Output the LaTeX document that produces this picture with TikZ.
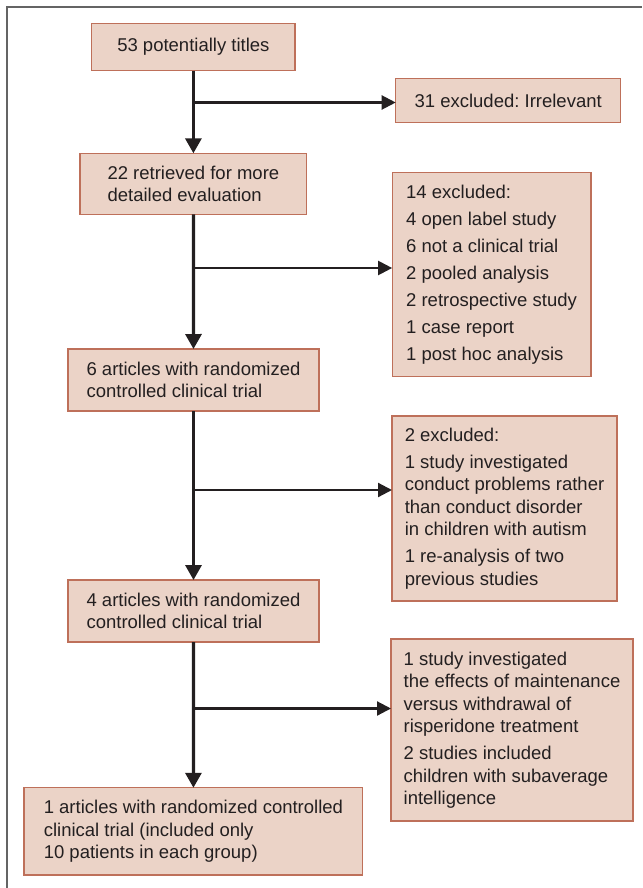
\documentclass[tikz,border=0pt]{standalone}
\usepackage{fontspec}
\setmainfont{Liberation Sans}
\usetikzlibrary{arrows.meta}
\definecolor{boxfill}{RGB}{235,211,199}
\definecolor{boxline}{RGB}{190,112,90}
\definecolor{arrowcol}{RGB}{35,31,32}
\definecolor{framecol}{RGB}{100,100,100}
\tikzset{
  box/.style={draw=boxline, fill=boxfill, line width=1.3pt, outer sep=0pt,
    inner xsep=0pt, inner ysep=0pt, align=left, text=arrowcol,
    font=\fontsize{18.5}{22.5}\selectfont\frenchspacing},
  varr/.style={draw=arrowcol, line width=3.2pt, -{Triangle[width=16pt,length=15pt]}},
  harr/.style={draw=arrowcol, line width=2.2pt, -{Triangle[width=14pt,length=14pt]}},
  framestyle/.style={draw=framecol, line width=2pt},
}
\begin{document}
\begin{tikzpicture}[x=1pt,y=-1pt]
\useasboundingbox (0,0) rectangle (642,888);
\draw[framestyle] (7,888) -- (7,7) -- (642,7);

\node[box, align=center, minimum width=203.3pt, minimum height=47.4pt] (b1) at (193.4,47) {53 potentially titles};
\node[box, align=center, minimum width=225pt, minimum height=44.4pt] (b2) at (508.2,100.5) {31 excluded: Irrelevant};
\node[box, minimum width=226.7pt, minimum height=61pt] (b3) at (193.4,183.8) {22 retrieved for more\\detailed evaluation};
\node[box, minimum width=198.7pt, minimum height=204.4pt] (b4) at (491.5,274.5) {14 excluded:\\[4.5pt]4 open label study\\[4.5pt]6 not a clinical trial\\[4.5pt]2 pooled analysis\\[4.5pt]2 retrospective study\\[4.5pt]1 case report\\[4.5pt]1 post hoc analysis};
\node[box, minimum width=251pt, minimum height=62pt] (b5) at (193.5,380) {6 articles with randomized\\controlled clinical trial};
\node[box, minimum width=225pt, minimum height=185pt] (b6) at (504.5,508.5) {2 excluded:\\[4.5pt]1 study investigated\\conduct problems rather\\than conduct disorder\\in children with autism\\[4.5pt]1 re-analysis of two\\previous studies};
\node[box, minimum width=251pt, minimum height=62pt] (b7) at (193.5,611) {4 articles with randomized\\controlled clinical trial};
\node[box, minimum width=242pt, minimum height=182pt] (b8) at (512,730) {1 study investigated\\the effects of maintenance\\versus withdrawal of\\risperidone treatment\\[4.5pt]2 studies included\\children with subaverage\\intelligence};
\node[box, minimum width=338.7pt, minimum height=87.3pt] (b9) at (193.4,831.4) {1 articles with randomized controlled\\clinical trial (included only\\10 patients in each group)};

\coordinate (j1) at (193.4,102.5);
\coordinate (j2) at (193.4,268);
\coordinate (j3) at (193.4,490);
\coordinate (j4) at (193.4,708.5);

\draw[varr] (b1) -- (b3);
\draw[varr] (b3) -- (b5);
\draw[varr] (b5) -- (b7);
\draw[varr] (b7) -- (b9);

\draw[harr] (j1) -- (j1 -| b2.west);
\draw[harr] (j2) -- (j2 -| b4.west);
\draw[harr] (j3) -- (j3 -| b6.west);
\draw[harr] (j4) -- (j4 -| b8.west);
\end{tikzpicture}
\end{document}
